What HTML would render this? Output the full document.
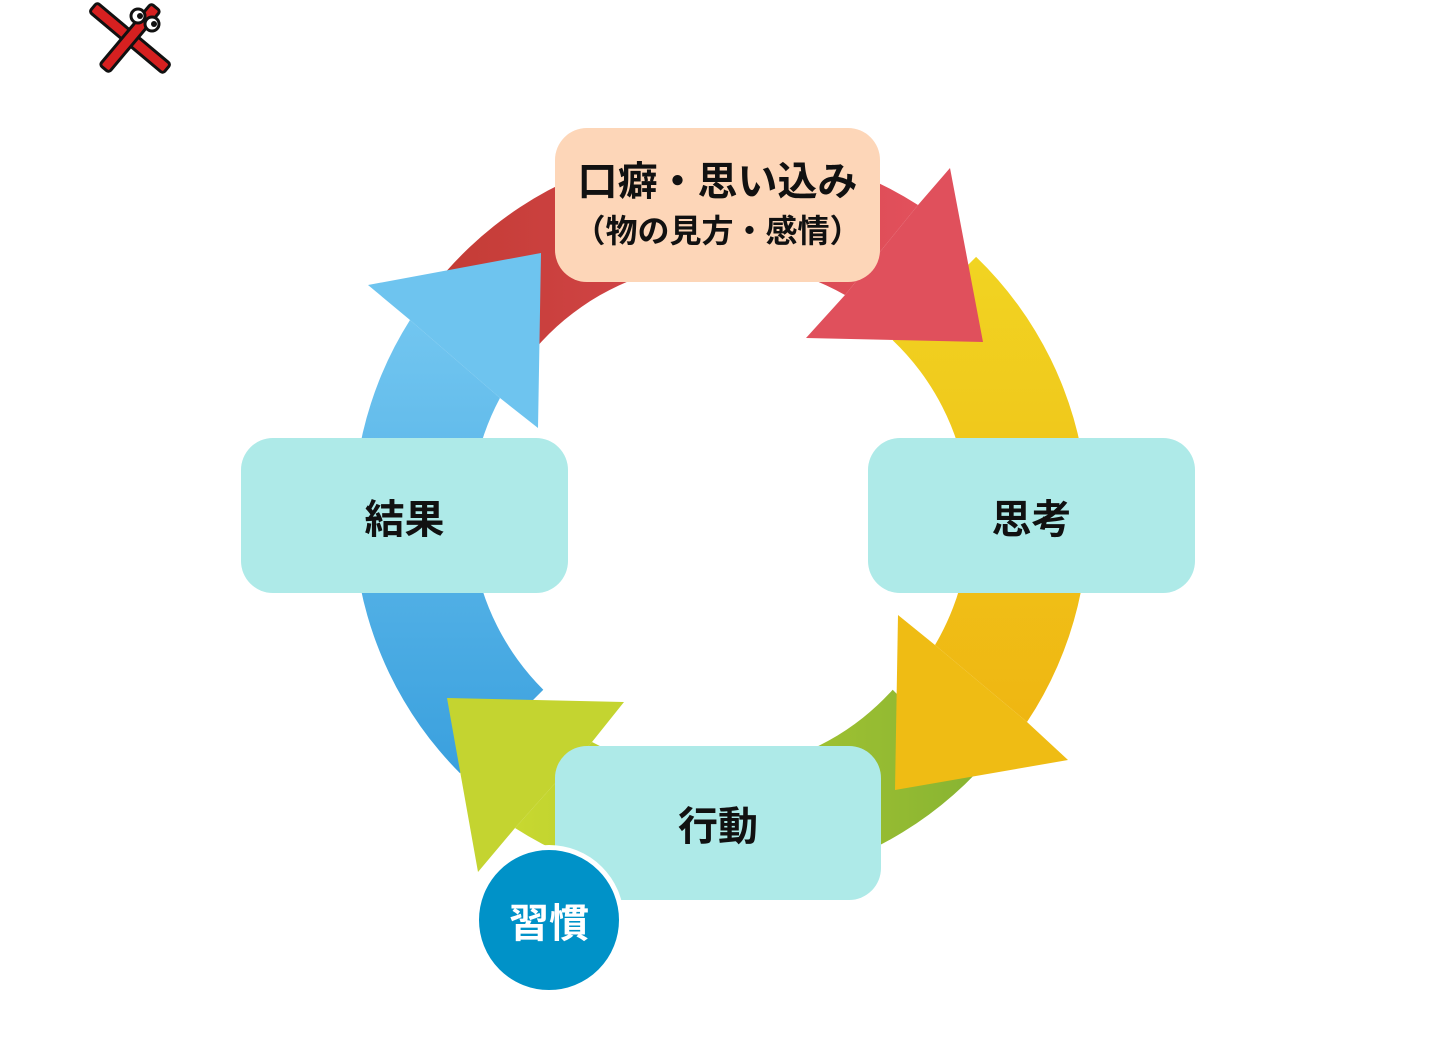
<!DOCTYPE html>
<html><head><meta charset="utf-8"><style>
html,body{margin:0;padding:0;background:#fff}
body{width:1436px;height:1043px;position:relative;overflow:hidden;font-family:"Liberation Sans","Noto Sans CJK JP",sans-serif}
.b{position:absolute;border-radius:32px;display:flex;align-items:center;justify-content:center;font-weight:bold;color:#111;text-align:center}
</style></head><body>
<svg width="1436" height="1043" style="position:absolute;left:0;top:0">
<defs>
<linearGradient id="gr" x1="0" y1="0" x2="1" y2="0"><stop offset="0" stop-color="#c43c36"/><stop offset="1" stop-color="#e2505c"/></linearGradient>
<linearGradient id="gy" x1="0" y1="0" x2="0" y2="1"><stop offset="0" stop-color="#f1d422"/><stop offset="1" stop-color="#efb612"/></linearGradient>
<linearGradient id="gg" x1="1" y1="0" x2="0" y2="0"><stop offset="0" stop-color="#88b432"/><stop offset="1" stop-color="#c8d830"/></linearGradient>
<linearGradient id="gb" x1="0" y1="1" x2="0" y2="0"><stop offset="0" stop-color="#3aa0de"/><stop offset="1" stop-color="#72c6f0"/></linearGradient>
</defs>
<path d="M 446.8 270.8 A 365 365 0 0 1 918 205 L 845 295 A 247 247 0 0 0 534.4 349.7 Z" fill="url(#gr)"/>
<path d="M 976.1 256.9 A 365 365 0 0 1 1027 722 L 935 645 A 247 247 0 0 0 892.7 340.3 Z" fill="url(#gy)"/>
<path d="M 976.1 773.1 A 365 365 0 0 1 515 828 L 592 742 A 247 247 0 0 0 892.7 689.7 Z" fill="url(#gg)"/>
<path d="M 459.9 773.1 A 365 365 0 0 1 410 320 L 500 398 A 247 247 0 0 0 543.3 689.7 Z" fill="url(#gb)"/>
<polygon points="950,168 983,342 806,338 845,295 918,205" fill="#e0505c"/>
<polygon points="898,615 935,645 1027,722 1068,760 895,790" fill="#efbc14"/>
<polygon points="624,702 592,742 515,828 478,872 447,698" fill="#c4d430"/>
<polygon points="368,285 541,253 538,428 500,398 410,320" fill="#6ec4ef"/>
<g transform="translate(130,38)">
<rect x="-48" y="-6" width="96" height="12" rx="3" fill="#d62020" stroke="#111" stroke-width="3" transform="rotate(40)"/>
<rect x="-40" y="-6" width="80" height="12" rx="3" fill="#d62020" stroke="#111" stroke-width="3" transform="rotate(-50)"/>
<circle cx="8" cy="-22" r="7" fill="#fff" stroke="#111" stroke-width="3"/>
<circle cx="22" cy="-14" r="7" fill="#fff" stroke="#111" stroke-width="3"/>
<circle cx="10" cy="-22" r="3" fill="#111"/><circle cx="24" cy="-14" r="3" fill="#111"/>
</g>
</svg>
<div class="b" style="left:555px;top:128px;width:325px;height:154px;background:#fdd6b8;flex-direction:column"><div style="font-size:40px;line-height:52px;white-space:nowrap">口癖・思い込み</div><div style="font-size:32px;line-height:46px;white-space:nowrap">（物の見方・感情）</div></div>
<div class="b" style="left:241px;top:438px;width:327px;height:155px;background:#aeeae8;font-size:40px">結果</div>
<div class="b" style="left:868px;top:438px;width:327px;height:155px;background:#aeeae8;font-size:40px">思考</div>
<div class="b" style="left:555px;top:746px;width:326px;height:154px;background:#aeeae8;font-size:40px">行動</div>
<div class="b" style="left:474px;top:845px;width:140px;height:140px;border-radius:50%;background:#0092c8;border:5px solid #fff;color:#fff;font-size:40px">習慣</div>
</body></html>
